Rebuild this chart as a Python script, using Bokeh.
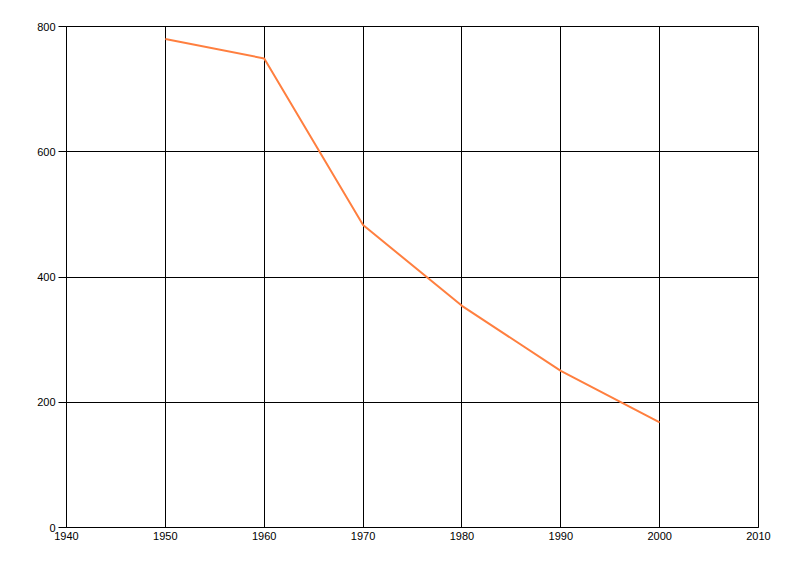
from bokeh.plotting import figure
from bokeh.models import Range1d, FixedTicker
from bokeh.embed import file_html
from bokeh.resources import INLINE

years = [1950, 1960, 1970, 1980, 1990, 2000]
values = [780, 749, 483, 354, 250, 168]
x_ticks = [1940, 1950, 1960, 1970, 1980, 1990, 2000, 2010]
y_ticks = [0, 200, 400, 600, 800]

p = figure(width=792, height=568, output_backend="svg", toolbar_location=None,
           x_range=Range1d(1940, 2010), y_range=Range1d(0, 800),
           min_border_left=66, min_border_right=34, min_border_top=26, min_border_bottom=41)
p.background_fill_color = "white"
p.border_fill_color = "white"
p.outline_line_color = "black"
p.outline_line_width = 1

p.line(years, values, line_color="#FF7F3F", line_width=2)

p.xaxis.ticker = FixedTicker(ticks=x_ticks)
p.yaxis.ticker = FixedTicker(ticks=y_ticks)
for ax in (p.xaxis, p.yaxis):
    ax.axis_line_color = "black"
    ax.major_tick_line_color = "black"
    ax.minor_tick_line_color = None
    ax.major_label_text_font = "Liberation Sans"
    ax.major_label_text_font_size = "11px"
    ax.major_label_text_color = "black"
    ax.major_tick_in = 0
p.xaxis.major_tick_out = 0
p.xaxis.major_label_standoff = 4
p.yaxis.major_tick_out = 8
p.yaxis.major_label_standoff = 3

p.xgrid.ticker = FixedTicker(ticks=x_ticks)
p.ygrid.ticker = FixedTicker(ticks=y_ticks)
p.grid.grid_line_color = "black"
p.grid.grid_line_width = 1
p.grid.grid_line_alpha = 1.0

open("out.html", "w").write(file_html(p, INLINE))
